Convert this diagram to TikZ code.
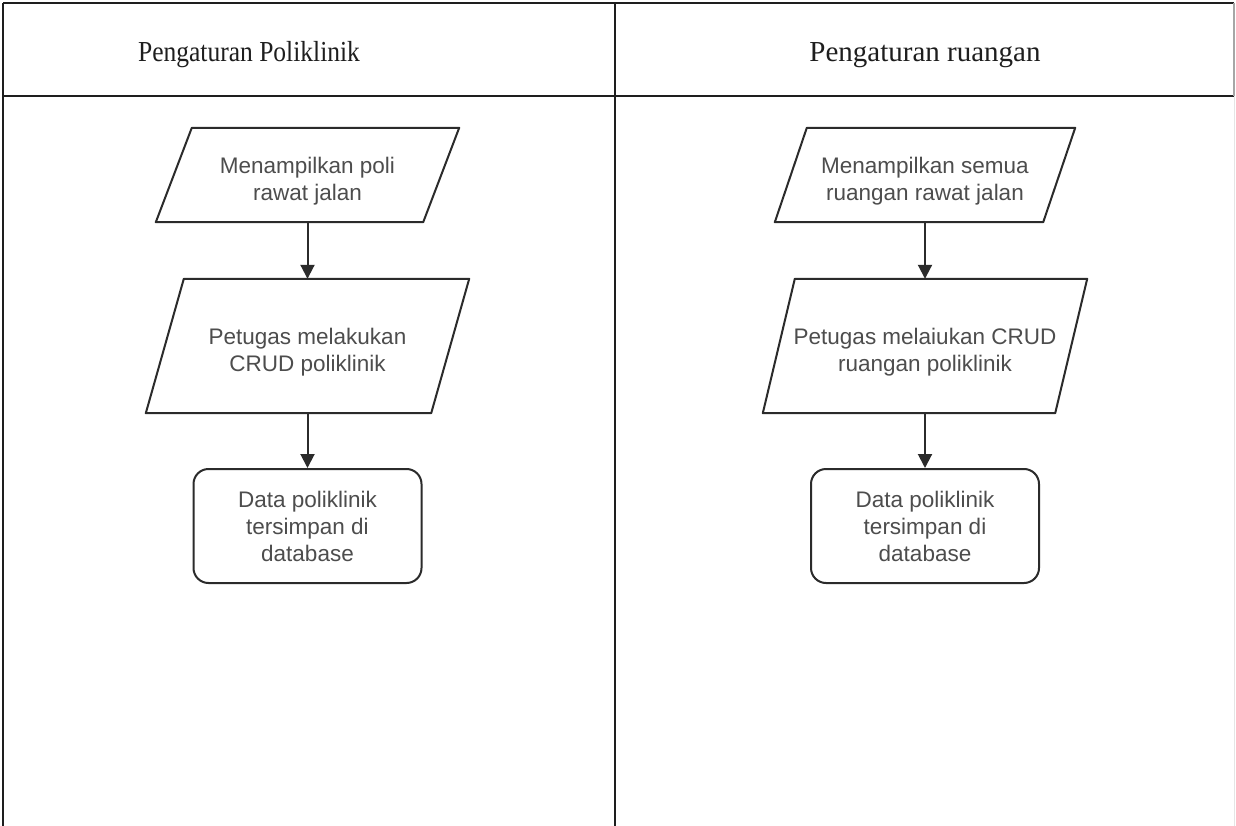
\documentclass[tikz,border=0pt]{standalone}
\usepackage{fontspec}
\setmainfont{Liberation Serif}
\setsansfont{Liberation Sans}
\usetikzlibrary{arrows.meta,calc}
\definecolor{txt}{HTML}{4d4d4d}
\definecolor{ln}{HTML}{2b2b2b}
\definecolor{tbl}{HTML}{1e1e1e}
\begin{document}
\begin{tikzpicture}[x=1pt,y=-1pt,
  tableline/.style={draw=tbl,line width=2.4pt},
  body/.style={font=\sffamily\fontsize{22.5}{27}\selectfont,text=txt,align=center,inner sep=0pt},
  iobox/.style={inner sep=0pt},
  shapeline/.style={draw=ln,line width=2pt,line join=round},
  endbox/.style={body,draw=ln,line width=2pt,rounded corners=15pt,minimum width=228pt,minimum height=114pt},
  arr/.style={draw=ln,line width=2pt,-{Triangle[length=14pt,width=14pt]}},
  head/.style={font=\fontsize{29}{34}\selectfont,text=tbl,anchor=base,inner sep=0pt}]
\useasboundingbox (0,0) rectangle (1236,826);
\fill[white] (0,0) rectangle (1236,826);
% table
\coordinate (tl) at (3,3);
\coordinate (tr) at (1234,3);
\coordinate (hl) at (3,96);
\coordinate (hr) at (1234,96);
\coordinate (bl) at (3,826);
\coordinate (tm) at (615,3);
\coordinate (bm) at (615,826);
\coordinate (br) at (1234,826);
\draw[draw=gray!20,line width=1pt] (hr) -- (br);
\draw[tableline] (tl) -- (tr);
\draw[tableline] (hl) -- (hr);
\draw[tableline] (tl) -- (bl);
\draw[tableline] (tm) -- (bm);
\draw[draw=gray!70,line width=1.6pt] (tr) -- (hr);
% headers
\node[head] (h1) at (249,62) {\scalebox{0.88}[1]{Pengaturan Poliklinik}};
\node[head] (h2) at (925,62) {Pengaturan ruangan};
% left column
\node[iobox,minimum width=303pt,minimum height=94pt] (p1) at (307.5,175) {};
\draw[shapeline] ($(p1.north west)+(36,0)$) -- (p1.north east) -- ($(p1.south east)+(-36,0)$) -- (p1.south west) -- cycle;
\node[body] (t1) at ($(p1.center)+(0,6)$) {Menampilkan poli\\rawat jalan};
\node[iobox,minimum width=323pt,minimum height=134pt] (p2) at (307.5,346) {};
\draw[shapeline] ($(p2.north west)+(38,0)$) -- (p2.north east) -- ($(p2.south east)+(-38,0)$) -- (p2.south west) -- cycle;
\node[body] (t2) at ($(p2.center)+(0,6)$) {Petugas melakukan\\CRUD poliklinik};
\node[endbox] (d1) at (307.5,526) {Data poliklinik\\tersimpan di\\database};
\draw[arr] (p1.south) -- (p2.north);
\draw[arr] (p2.south) -- (d1.north);
% right column
\node[iobox,minimum width=300pt,minimum height=94pt] (q1) at (925,175) {};
\draw[shapeline] ($(q1.north west)+(32,0)$) -- (q1.north east) -- ($(q1.south east)+(-32,0)$) -- (q1.south west) -- cycle;
\node[body] (u1) at ($(q1.center)+(0,6)$) {Menampilkan semua\\ruangan rawat jalan};
\node[iobox,minimum width=324pt,minimum height=134pt] (q2) at (925,346) {};
\draw[shapeline] ($(q2.north west)+(32,0)$) -- (q2.north east) -- ($(q2.south east)+(-32,0)$) -- (q2.south west) -- cycle;
\node[body] (u2) at ($(q2.center)+(0,6)$) {Petugas melaiukan CRUD\\ruangan poliklinik};
\node[endbox] (d2) at (925,526) {Data poliklinik\\tersimpan di\\database};
\draw[arr] (q1.south) -- (q2.north);
\draw[arr] (q2.south) -- (d2.north);
\end{tikzpicture}
\end{document}
